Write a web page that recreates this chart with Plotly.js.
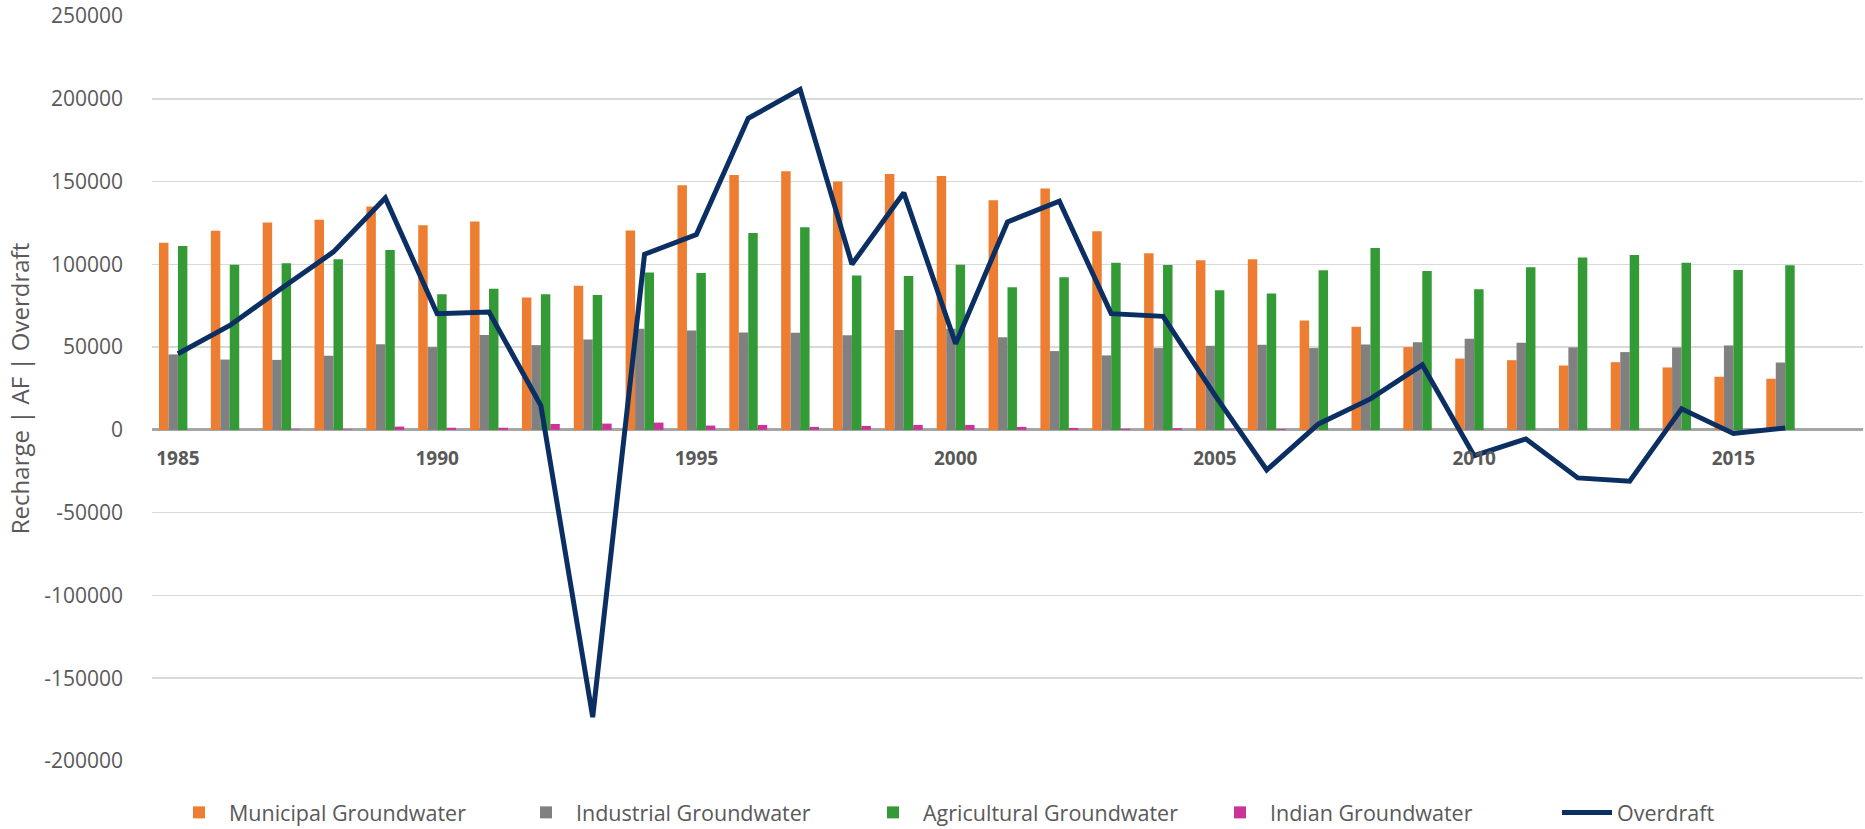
<!DOCTYPE html>
<html>
<head>
<meta charset="utf-8">
<script src="https://cdn.plot.ly/plotly-3.0.1.min.js"></script>
<style>
  html, body { margin: 0; padding: 0; background: #ffffff; }
  #chart { width: 1865px; height: 829px; }
</style>
</head>
<body>
<div id="chart"></div>
<script>
const years = [1985,1986,1987,1988,1989,1990,1991,1992,1993,1994,1995,1996,1997,1998,1999,2000,
               2001,2002,2003,2004,2005,2006,2007,2008,2009,2010,2011,2012,2013,2014,2015,2016];

const municipal = [113000,120300,125200,126900,135000,123600,125900,80000,87100,120400,147800,153900,156300,150000,154500,153300,
                   138700,145800,120000,106700,102400,103000,66100,62300,50000,43100,42100,38900,40900,37700,32100,30900];

const industrial = [45600,42500,42300,44800,51700,50000,57300,51200,54600,61100,60100,58900,58700,57100,60300,61100,
                    56000,47600,45000,49400,50800,51400,49400,51600,53000,55100,52600,49800,47000,49800,51000,40700];

const agricultural = [111100,99700,100700,103000,108700,81900,85300,81900,81500,95000,94800,119000,122400,93200,93000,99800,
                      86100,92200,101000,99600,84300,82400,96400,109900,96000,84900,98200,104100,105700,101000,96600,99400];

const indian = [0,0,300,300,2000,1300,1300,3600,3800,4400,2600,3000,1800,2400,3000,3000,
                1800,1200,600,1000,300,500,0,0,0,0,0,0,0,0,0,0];

const overdraft = [46000,63100,85500,107500,140100,70200,71200,14700,-173500,106100,118000,188200,205700,100000,143200,52000,
                   125600,138100,70200,68600,21000,-24200,3600,18700,39300,-15600,-5500,-29000,-31000,12700,-2200,1200];

const xTickYears = [1985,1990,1995,2000,2005,2010,2015];
const xTickText = ['1985','1990','1995','2000','2005','2010','2015'];
const yTickVals = [-200000,-150000,-100000,-50000,0,50000,100000,150000,200000,250000];
const yTickText = ['-200000','-150000','-100000','-50000','0','50000','100000','150000','200000','250000'];

const seriesNames = ['Municipal Groundwater','Industrial Groundwater','Agricultural Groundwater','Indian Groundwater','Overdraft'];
const colors = ['#ED7D31','#808080','#349A36','#CC3399','#0B2F63'];

const barSeries = [municipal, industrial, agricultural, indian];
const traces = barSeries.map((vals, i) => ({
  type: 'bar',
  name: seriesNames[i],
  x: years,
  y: vals,
  marker: { color: colors[i], line: { width: 0 } }
}));
traces.push({
  type: 'scatter',
  mode: 'lines',
  name: seriesNames[4],
  x: years,
  y: overdraft,
  line: { color: colors[4], width: 5, shape: 'linear' }
});

const layout = {
  width: 1865,
  height: 829,
  margin: { l: 152, r: 2, t: 16, b: 68, autoexpand: false },
  paper_bgcolor: '#ffffff',
  plot_bgcolor: '#ffffff',
  font: { family: 'Open Sans, sans-serif', color: '#595959' },
  barmode: 'group',
  bargap: 0.27,
  bargroupgap: 0,
  showlegend: true,
  legend: {
    orientation: 'h',
    x: -0.00001, xanchor: 'left',
    y: -0.069, yanchor: 'middle',
    font: { family: 'Open Sans, sans-serif', size: 21.5, color: '#595959' },
    itemwidth: 50,
    indentation: 17,
    entrywidth: 265,
    entrywidthmode: 'pixels',
    traceorder: 'normal',
    bgcolor: 'rgba(0,0,0,0)'
  },
  xaxis: {
    range: [1984.5, 2017.5],
    anchor: 'free',
    position: 200000 / 450000,
    tickmode: 'array',
    tickvals: xTickYears,
    ticktext: xTickText,
    ticks: '',
    showgrid: false,
    showline: false,
    zeroline: false,
    ticklabelstandoff: 15,
    tickfont: { family: 'Open Sans, sans-serif', size: 19, color: '#595959', weight: 'bold' },
    fixedrange: true
  },
  yaxis: {
    range: [-200000, 250000],
    tickmode: 'array',
    tickvals: yTickVals,
    ticktext: yTickText,
    showgrid: true,
    gridcolor: '#D9D9D9',
    gridwidth: 1.5,
    zeroline: true,
    zerolinecolor: '#A6A6A6',
    zerolinewidth: 3,
    showline: false,
    ticks: '',
    ticklabelstandoff: 28,
    tickfont: { family: 'Open Sans, sans-serif', size: 21, color: '#595959' },
    title: { text: 'Recharge | AF | Overdraft', font: { family: 'Open Sans, sans-serif', size: 24, color: '#595959' }, standoff: 7 },
    fixedrange: true
  }
};

Plotly.newPlot('chart', traces, layout, { displayModeBar: false, staticPlot: true });
</script>
</body>
</html>
